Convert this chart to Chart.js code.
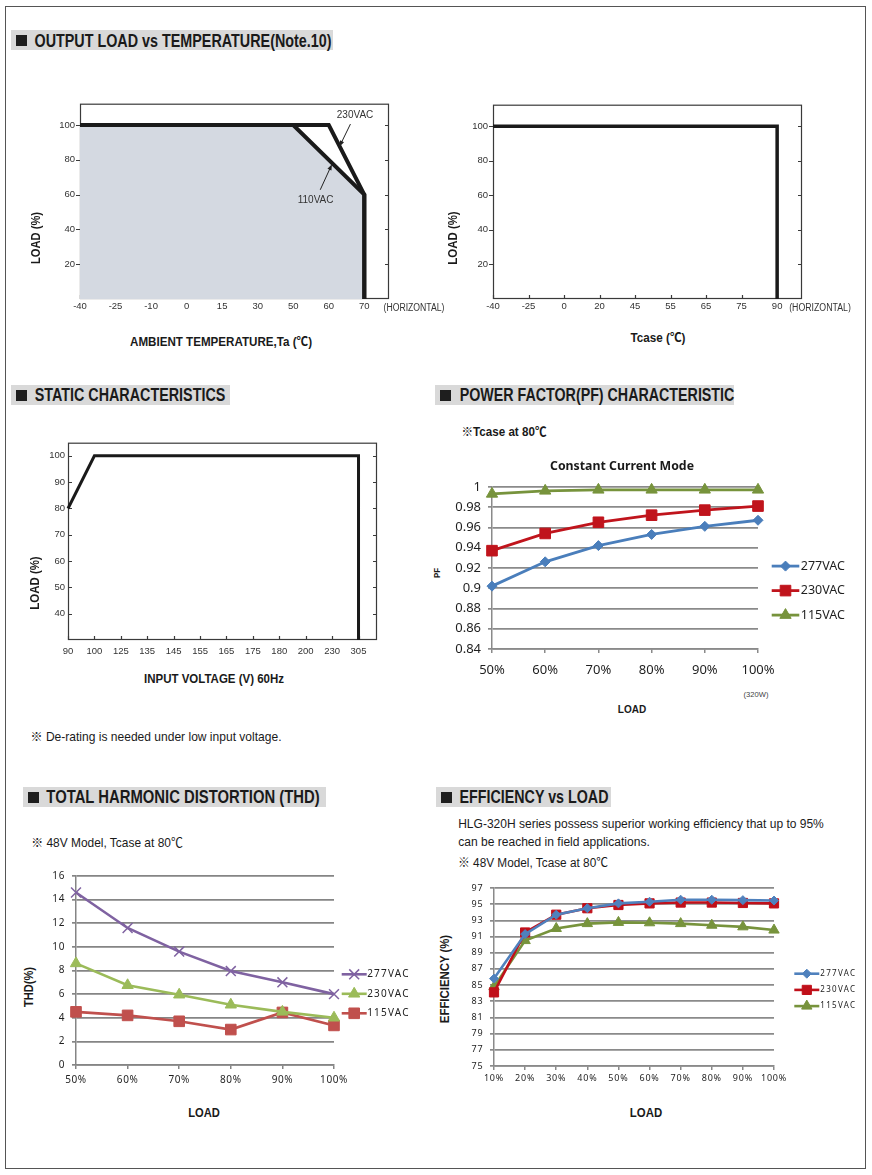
<!DOCTYPE html>
<html><head><meta charset="utf-8">
<script src="https://cdn.jsdelivr.net/npm/chart.js@4.4.1/dist/chart.umd.min.js"></script>
<style>
html,body{margin:0;padding:0;background:#fff;}
body{width:872px;height:1175px;position:relative;overflow:hidden;font-family:'Liberation Sans',Arial,'Noto Sans CJK SC',sans-serif;}
.frame{position:absolute;left:5px;top:6px;width:859px;height:1161px;border:1.5px solid #555;box-sizing:content-box;z-index:0;}
.hbox{position:absolute;background:#d9d9d9;z-index:1;}
.sq{position:absolute;background:#1e1e1e;z-index:2;}
.t{position:absolute;white-space:nowrap;line-height:1;transform-origin:50% 50%;color:#1a1a1a;z-index:3;}
canvas{position:absolute;z-index:2;}
</style></head><body>
<div class="frame"></div>
<div class="hbox" style="left:11px;top:30px;width:322px;height:20px"></div>
<div class="hbox" style="left:11px;top:385px;width:219px;height:20px"></div>
<div class="hbox" style="left:435px;top:385px;width:299px;height:20px"></div>
<div class="hbox" style="left:22.7px;top:787px;width:303px;height:20px"></div>
<div class="hbox" style="left:436px;top:787px;width:175px;height:20px"></div>
<div class="sq" style="left:16px;top:35px;width:11px;height:11px"></div>
<div class="sq" style="left:15.7px;top:390px;width:11px;height:11px"></div>
<div class="sq" style="left:440px;top:390px;width:11px;height:11px"></div>
<div class="sq" style="left:27.7px;top:792px;width:11px;height:11px"></div>
<div class="sq" style="left:440.7px;top:792px;width:11px;height:11px"></div>
<canvas id="c1"></canvas><canvas id="c2"></canvas><canvas id="c3"></canvas>
<canvas id="c4"></canvas><canvas id="c5"></canvas><canvas id="c6"></canvas>
<script>
// ================= DATA =================
// Output load vs ambient temperature
const derateTemps = [-40, -25, -10, 0, 15, 30, 50, 60, 70];
const derate230 = [[-40, 100], [60, 100], [70, 60], [70, 0]];
const derate110 = [[-40, 100], [50, 100], [70, 60], [70, 0]];
const loadTicks = [20, 40, 60, 80, 100];
// Output load vs Tcase
const tcaseTemps = [-40, -25, 0, 20, 45, 55, 65, 75, 90];
const tcaseCurve = [[-40, 100], [90, 100], [90, 0]];
// Static characteristics
const inputVolts = [90, 100, 125, 135, 145, 155, 165, 175, 180, 200, 230, 305];
const staticCurve = [[90, 80], [100, 100], [305, 100], [305, 30]];
const staticLoadTicks = [40, 50, 60, 70, 80, 90, 100];
// Power factor
const pfLoads = ['50%', '60%', '70%', '80%', '90%', '100%'];
const pfTicks = [0.84, 0.86, 0.88, 0.9, 0.92, 0.94, 0.96, 0.98, 1];
const pf277 = [0.902, 0.926, 0.942, 0.953, 0.961, 0.967];
const pf230 = [0.937, 0.954, 0.965, 0.972, 0.977, 0.981];
const pf115 = [0.993, 0.996, 0.997, 0.997, 0.997, 0.997];
// THD
const thdLoads = ['50%', '60%', '70%', '80%', '90%', '100%'];
const thdTicks = [0, 2, 4, 6, 8, 10, 12, 14, 16];
const thd277 = [14.6, 11.6, 9.6, 7.95, 7.0, 6.0];
const thd230 = [8.6, 6.75, 5.95, 5.1, 4.5, 4.0];
const thd115 = [4.5, 4.2, 3.7, 3.0, 4.45, 3.35];
// Efficiency
const effLoads = ['10%', '20%', '30%', '40%', '50%', '60%', '70%', '80%', '90%', '100%'];
const effTicks = [75, 77, 79, 81, 83, 85, 87, 89, 91, 93, 95, 97];
const eff277 = [85.8, 91.3, 93.7, 94.5, 95.1, 95.3, 95.55, 95.55, 95.5, 95.45];
const eff230 = [84.1, 91.5, 93.7, 94.5, 94.9, 95.1, 95.2, 95.2, 95.15, 95.1];
const eff115 = [84.8, 90.5, 92.0, 92.6, 92.75, 92.7, 92.6, 92.4, 92.2, 91.8];

// ================= HELPERS =================
const SANS = "'Liberation Sans', Arial, 'Noto Sans CJK SC', sans-serif";
const NARROW = "'Liberation Sans Narrow', 'Liberation Sans', Arial, 'Noto Sans CJK SC', sans-serif";
const XL = "'Noto Sans', 'Open Sans', sans-serif";

function place(id, plot, pad) {
  const c = document.getElementById(id);
  const w = plot.w + pad.l + pad.r, h = plot.h + pad.t + pad.b;
  c.width = w; c.height = h;
  c.style.left = (plot.x - pad.l) + 'px'; c.style.top = (plot.y - pad.t) + 'px';
  c.style.width = w + 'px'; c.style.height = h + 'px';
  return c;
}
function toIdx(pts, axis) { return pts.map(p => ({ x: axis.indexOf(p[0]), y: p[1] })); }

function marker(ctx, style, x, y, r, fill, stroke, lw) {
  ctx.save();
  ctx.fillStyle = fill; ctx.strokeStyle = stroke; ctx.lineWidth = lw || 1;
  ctx.beginPath();
  if (style === 'rectRot') {
    ctx.moveTo(x - r, y); ctx.lineTo(x, y - r); ctx.lineTo(x + r, y); ctx.lineTo(x, y + r); ctx.closePath();
    ctx.fill(); ctx.stroke();
  } else if (style === 'rect') {
    const s = r * Math.SQRT1_2; ctx.rect(x - s, y - s, 2 * s, 2 * s); ctx.fill(); ctx.stroke();
  } else if (style === 'triangle') {
    for (let k = 0; k < 3; k++) { const a = k * 2 * Math.PI / 3; const px = x + Math.sin(a) * r, py = y - Math.cos(a) * r; k ? ctx.lineTo(px, py) : ctx.moveTo(px, py); }
    ctx.closePath(); ctx.fill(); ctx.stroke();
  } else if (style === 'crossRot') {
    const s = r * Math.SQRT1_2;
    ctx.moveTo(x - s, y - s); ctx.lineTo(x + s, y + s); ctx.moveTo(x + s, y - s); ctx.lineTo(x - s, y + s); ctx.stroke();
  }
  ctx.restore();
}

// frame box + tick marks for the derating charts
const boxPlugin = {
  id: 'box',
  beforeDatasetsDraw(chart, args, o) {
    if (!o || o.leftOut === undefined) return;
    const { ctx, chartArea: a, scales: { x, y } } = chart;
    ctx.save();
    ctx.strokeStyle = '#3a3a3a'; ctx.lineWidth = 1.2;
    ctx.strokeRect(a.left + 0.5, a.top + 0.5, a.right - a.left - 1, a.bottom - a.top - 1);
    ctx.beginPath();
    x.ticks.forEach(t => {
      const px = Math.round(x.getPixelForValue(t.value)) + 0.5;
      ctx.moveTo(px, a.bottom); ctx.lineTo(px, a.bottom - 4);
    });
    y.ticks.forEach(t => {
      const py = Math.round(y.getPixelForValue(t.value)) + 0.5;
      if (o.leftOut) { ctx.moveTo(a.left - 4, py); ctx.lineTo(a.left, py); }
      else { ctx.moveTo(a.left, py); ctx.lineTo(a.left + 4, py); }
      ctx.moveTo(a.right - 4, py); ctx.lineTo(a.right, py);
    });
    ctx.stroke();
    ctx.restore();
  }
};

// curve annotations (labels + arrows), positioned in axis units
const annPlugin = {
  id: 'ann',
  afterDatasetsDraw(chart, args, o) {
    if (!o || !o.labels) return;
    const { ctx, scales: { x, y } } = chart;
    ctx.save();
    ctx.fillStyle = '#333'; ctx.strokeStyle = '#222'; ctx.lineWidth = 1;
    ctx.font = o.font; ctx.textAlign = 'center'; ctx.textBaseline = 'middle';
    o.labels.forEach(l => ctx.fillText(l.text, x.getPixelForValue(l.at[0]), y.getPixelForValue(l.at[1])));
    o.arrows.forEach(ar => {
      const x0 = x.getPixelForValue(ar.from[0]), y0 = y.getPixelForValue(ar.from[1]);
      const x1 = x.getPixelForValue(ar.to[0]), y1 = y.getPixelForValue(ar.to[1]);
      const ang = Math.atan2(y1 - y0, x1 - x0);
      ctx.beginPath(); ctx.moveTo(x0, y0); ctx.lineTo(x1 - Math.cos(ang) * 4, y1 - Math.sin(ang) * 4); ctx.stroke();
      ctx.beginPath();
      ctx.moveTo(x1, y1);
      ctx.lineTo(x1 - Math.cos(ang) * 6 + Math.sin(ang) * 2.2, y1 - Math.sin(ang) * 6 - Math.cos(ang) * 2.2);
      ctx.lineTo(x1 - Math.cos(ang) * 6 - Math.sin(ang) * 2.2, y1 - Math.sin(ang) * 6 + Math.cos(ang) * 2.2);
      ctx.closePath(); ctx.fillStyle = '#222'; ctx.fill();
    });
    ctx.restore();
  }
};

// excel-style legend on the right side of the plot
const xlLegend = {
  id: 'xlLegend',
  beforeDraw(chart, args, o) { if (o && o.tickLs) chart.ctx.letterSpacing = o.tickLs; },
  afterDraw(chart, args, o) {
    if (!o || o.x0 === undefined) return;
    const { ctx, chartArea: a } = chart;
    chart.data.datasets.forEach((ds, i) => {
      const yy = a.top + o.y0 + i * o.dy;
      const x0 = a.right + o.x0, x1 = x0 + o.len;
      ctx.save();
      ctx.strokeStyle = ds.borderColor; ctx.lineWidth = ds.borderWidth;
      ctx.beginPath(); ctx.moveTo(x0, yy); ctx.lineTo(x1, yy); ctx.stroke();
      marker(ctx, ds.pointStyle, (x0 + x1) / 2, yy, ds.pointRadius, ds.pointBackgroundColor, ds.pointBorderColor, ds.pointBorderWidth);
      ctx.fillStyle = o.color; ctx.font = o.font; ctx.letterSpacing = o.ls || '0px';
      ctx.textAlign = 'left'; ctx.textBaseline = 'middle';
      ctx.fillText(ds.label, x1 + o.gap, yy);
      ctx.restore();
    });
  }
};

function boxOpts(p) {
  const tickFont = { family: NARROW, size: 9.5 };
  return {
    responsive: false, animation: false, events: [],
    layout: { padding: { top: p.pad.t, right: p.pad.r, left: 0, bottom: 0 } },
    plugins: { legend: { display: false }, tooltip: { enabled: false }, box: { leftOut: p.leftOut }, ann: p.ann || {} },
    elements: { line: { tension: 0, borderJoinStyle: 'miter', borderCapStyle: 'butt' }, point: { radius: 0 } },
    scales: {
      x: {
        type: 'linear', min: 0, max: p.xMax,
        grid: { display: false, drawTicks: false }, border: { display: false },
        afterBuildTicks: s => { s.ticks = p.xLabels.map((_, i) => ({ value: i })); },
        ticks: { autoSkip: false, maxRotation: 0, padding: p.xPad, color: '#333', font: tickFont, callback: v => String(p.xLabels[v]) },
        afterFit: s => { s.height = p.pad.b; }
      },
      y: {
        type: 'linear', min: p.yMin, max: p.yMax,
        grid: { display: false, drawTicks: false }, border: { display: false },
        afterBuildTicks: s => { s.ticks = p.yTicks.map(v => ({ value: v })); },
        ticks: { padding: p.yPad, color: '#333', font: tickFont },
        afterFit: s => { s.width = p.pad.l; }
      }
    }
  };
}

function xlOpts(p) {
  const gc = p.gridColor || '#8a8a8a';
  return {
    responsive: false, animation: false, events: [],
    layout: { padding: { top: p.pad.t, right: p.pad.r, left: 0, bottom: 0 } },
    plugins: { legend: { display: false }, tooltip: { enabled: false }, xlLegend: p.legend },
    elements: { line: { tension: 0 } },
    scales: {
      x: {
        type: 'category', offset: false,
        grid: { drawOnChartArea: false, drawTicks: true, tickLength: 4, color: gc, lineWidth: 1.5 },
        border: { display: true, color: gc, width: 1.5 },
        ticks: { autoSkip: false, maxRotation: 0, padding: p.xPad, color: '#1f1f1f', font: p.font },
        afterFit: s => { s.height = p.pad.b; }
      },
      y: {
        type: 'linear', min: p.yMin, max: p.yMax,
        afterBuildTicks: s => { s.ticks = p.yTicks.map(v => ({ value: v })); },
        grid: { color: gc, lineWidth: 1.7, tickLength: 4, drawTicks: true },
        border: { display: true, color: gc, width: 1.5 },
        ticks: { padding: p.yPad, color: '#1f1f1f', font: p.font, callback: v => String(+Number(v).toFixed(2)) },
        afterFit: s => { s.width = p.pad.l; }
      }
    }
  };
}

function xlSet(label, data, color, style, r, bw) {
  return {
    label, data, borderColor: color, backgroundColor: color,
    pointStyle: style, pointRadius: r, pointBackgroundColor: style === 'crossRot' ? 'rgba(0,0,0,0)' : color,
    pointBorderColor: color, pointBorderWidth: style === 'crossRot' ? 1.5 : 1,
    borderWidth: bw, clip: false, fill: false
  };
}

Chart.register(boxPlugin, annPlugin, xlLegend);
const INK = '#1a1a1a';

// ---------- Chart 1: output load vs ambient temperature ----------
{
  const plot = { x: 80, y: 101, w: 309, h: 198 }, pad = { l: 45, t: 8, r: 8, b: 20 };
  const c = place('c1', plot, pad);
  new Chart(c, {
    type: 'line',
    data: {
      datasets: [
        { label: '230VAC', data: toIdx(derate230, derateTemps), borderColor: INK, borderWidth: 4, fill: false, clip: false },
        { label: '110VAC', data: toIdx(derate110, derateTemps), borderColor: INK, borderWidth: 4, fill: 'origin', backgroundColor: '#d4d9e1', clip: false }
      ]
    },
    options: boxOpts({
      pad, xMax: 8.695, yMin: 0, yMax: 112.3, xLabels: derateTemps, yTicks: loadTicks, xPad: 2, yPad: 5, leftOut: true,
      ann: {
        font: '10px ' + SANS,
        labels: [{ text: '230VAC', at: [7.74, 105.4] }, { text: '110VAC', at: [6.63, 56.6] }],
        arrows: [{ from: [7.61, 100.6], to: [7.30, 87.6] }, { from: [6.76, 62.8], to: [7.09, 77.5] }]
      }
    })
  });
}

// ---------- Chart 2: output load vs Tcase ----------
{
  const plot = { x: 493, y: 102, w: 309, h: 197 }, pad = { l: 45, t: 8, r: 8, b: 20 };
  const c = place('c2', plot, pad);
  new Chart(c, {
    type: 'line',
    data: { datasets: [{ label: 'Tcase', data: toIdx(tcaseCurve, tcaseTemps), borderColor: INK, borderWidth: 3.5, fill: false, clip: false }] },
    options: boxOpts({ pad, xMax: 8.70, yMin: 0, yMax: 112.4, xLabels: tcaseTemps, yTicks: loadTicks, xPad: 2, yPad: 5, leftOut: true })
  });
}

// ---------- Chart 3: static characteristics ----------
{
  const plot = { x: 68, y: 442, w: 309, h: 198 }, pad = { l: 40, t: 8, r: 8, b: 22 };
  const c = place('c3', plot, pad);
  new Chart(c, {
    type: 'line',
    data: { datasets: [{ label: 'Static', data: toIdx(staticCurve, inputVolts), borderColor: INK, borderWidth: 3, fill: false, clip: false }] },
    options: boxOpts({ pad, xMax: 11.70, yMin: 30, yMax: 105, xLabels: inputVolts, yTicks: staticLoadTicks, xPad: 6, yPad: 3, leftOut: false })
  });
}

// ---------- Chart 4: power factor ----------
{
  const plot = { x: 492, y: 484, w: 266, h: 165 }, pad = { l: 45, t: 12, r: 100, b: 35 };
  const c = place('c4', plot, pad);
  new Chart(c, {
    type: 'line',
    data: {
      labels: pfLoads,
      datasets: [
        xlSet('277VAC', pf277, '#4a7ebb', 'rectRot', 5, 2.8),
        xlSet('230VAC', pf230, '#c0141c', 'rect', 7.5, 2.8),
        xlSet('115VAC', pf115, '#77933c', 'triangle', 6.5, 2.8)
      ]
    },
    options: xlOpts({
      pad, yMin: 0.84, yMax: 1, yTicks: pfTicks, xPad: 9, yPad: 7, font: { family: XL, size: 13 },
      legend: { x0: 13.7, len: 27.6, gap: 1.5, y0: 79.3, dy: 24.5, font: '12.5px ' + XL, color: '#1f1f1f' }
    })
  });
}

// ---------- Chart 5: THD ----------
{
  const plot = { x: 76, y: 875, w: 258, h: 190 }, pad = { l: 40, t: 12, r: 85, b: 28 };
  const c = place('c5', plot, pad);
  new Chart(c, {
    type: 'line',
    data: {
      labels: thdLoads,
      datasets: [
        xlSet('277VAC', thd277, '#7f62a1', 'crossRot', 7, 2.6),
        xlSet('230VAC', thd230, '#9bbb59', 'triangle', 6.5, 2.6),
        xlSet('115VAC', thd115, '#c0504d', 'rect', 7.5, 2.6)
      ]
    },
    options: xlOpts({
      pad, yMin: 0, yMax: 16, yTicks: thdTicks, xPad: 5, yPad: 7, font: { family: XL, size: 10 }, gridColor: '#858585',
      legend: { tickLs: '0.6px', x0: 7.7, len: 25, gap: 0.5, y0: 98.3, dy: 19.5, font: '10px ' + XL, ls: '1.2px', color: '#222' }
    })
  });
}

// ---------- Chart 6: efficiency ----------
{
  const plot = { x: 494, y: 888, w: 280, h: 178 }, pad = { l: 40, t: 12, r: 88, b: 24 };
  const c = place('c6', plot, pad);
  new Chart(c, {
    type: 'line',
    data: {
      labels: effLoads,
      datasets: [
        xlSet('277VAC', eff277, '#4f81bd', 'rectRot', 4.5, 2.6),
        xlSet('230VAC', eff230, '#c0101a', 'rect', 6.5, 2.6),
        xlSet('115VAC', eff115, '#77933c', 'triangle', 6, 2.6)
      ]
    },
    options: xlOpts({
      pad, yMin: 75, yMax: 97, yTicks: effTicks, xPad: 3.5, yPad: 6.5, font: { family: XL, size: 9 }, gridColor: '#8a8a8a',
      legend: { tickLs: '0.8px', x0: 20.3, len: 25, gap: 1, y0: 85.7, dy: 16.2, font: '8px ' + XL, ls: '1.3px', color: '#222' }
    })
  });
}

// ================= TEXT =================
const HB = 'bold 17.5px ' + NARROW;
const AT = 'bold 12.5px ' + SANS;
const TEXTS = [
  { t: 'OUTPUT LOAD vs TEMPERATURE(Note.10)', cx: 182.5, cy: 40.5, w: 297, f: HB },
  { t: 'STATIC CHARACTERISTICS', cx: 129.7, cy: 395, w: 190.7, f: HB },
  { t: 'POWER FACTOR(PF) CHARACTERISTIC', cx: 596.7, cy: 395, w: 274.7, f: HB },
  { t: 'TOTAL HARMONIC DISTORTION (THD)', cx: 182.7, cy: 797, w: 273.3, f: HB },
  { t: 'EFFICIENCY vs LOAD', cx: 533.8, cy: 797, w: 149, f: HB },

  { t: 'LOAD (%)', cx: 35.5, cy: 238, w: 52, f: AT, r: 1 },
  { t: 'AMBIENT TEMPERATURE,Ta (℃)', cx: 221, cy: 340, w: 182, f: AT },
  { t: '(HORIZONTAL)', cx: 413.5, cy: 306.5, w: 61, f: '10px ' + SANS, c: '#333' },
  { t: 'LOAD (%)', cx: 452.7, cy: 237.7, w: 53.3, f: AT, r: 1 },
  { t: 'Tcase (℃)', cx: 657.5, cy: 335.7, w: 55, f: AT },
  { t: '(HORIZONTAL)', cx: 820, cy: 306.5, w: 61.7, f: '10px ' + SANS, c: '#333' },

  { t: 'LOAD (%)', cx: 34.5, cy: 582.7, w: 53.3, f: AT, r: 1 },
  { t: 'INPUT VOLTAGE (V) 60Hz', cx: 214, cy: 679.3, w: 140, f: AT },
  { t: '※ De-rating is needed under low input voltage.', cx: 156.2, cy: 735.3, w: 251, f: '13px ' + SANS },

  { t: '※Tcase at 80℃', cx: 504.2, cy: 430, w: 85, f: 'bold 13px ' + SANS },
  { t: 'Constant Current Mode', cx: 622, cy: 465, w: 144, f: 'bold 13px ' + XL },
  { t: 'PF', cx: 436.7, cy: 572.7, w: 10, f: 'bold 9px ' + SANS, r: 1 },
  { t: '(320W)', cx: 755.8, cy: 694, w: 25, f: '7px ' + SANS, c: '#444' },
  { t: 'LOAD', cx: 631.5, cy: 709, w: 28.4, f: 'bold 11.5px ' + SANS },

  { t: '※ 48V Model, Tcase at 80℃', cx: 106.8, cy: 840.7, w: 151.7, f: '13px ' + SANS },
  { t: 'THD(%)', cx: 28.5, cy: 986.7, w: 40, f: AT, r: 1 },
  { t: 'LOAD', cx: 204.2, cy: 1112.7, w: 31.7, f: AT },

  { t: 'HLG-320H series possess superior working efficiency that up to 95%', cx: 640.5, cy: 824.3, w: 365.6, f: '12.5px ' + SANS },
  { t: 'can be reached in field applications.', cx: 553.5, cy: 842.3, w: 191.6, f: '12.5px ' + SANS },
  { t: '※ 48V Model, Tcase at 80℃', cx: 532.7, cy: 861, w: 150, f: '12.5px ' + SANS },
  { t: 'EFFICIENCY (%)', cx: 445, cy: 979, w: 88.3, f: AT, r: 1 },
  { t: 'LOAD', cx: 646.2, cy: 1112.7, w: 32.3, f: AT }
];
TEXTS.forEach(o => {
  const el = document.createElement('div'); el.className = 't'; el.textContent = o.t;
  el.style.font = o.f; el.style.left = o.cx + 'px'; el.style.top = o.cy + 'px';
  if (o.c) el.style.color = o.c;
  document.body.appendChild(el);
  const k = o.w / el.getBoundingClientRect().width;
  el.style.transform = `translate(-50%,-50%)${o.r ? ' rotate(-90deg)' : ''} scaleX(${k})`;
});
</script>
</body></html>
